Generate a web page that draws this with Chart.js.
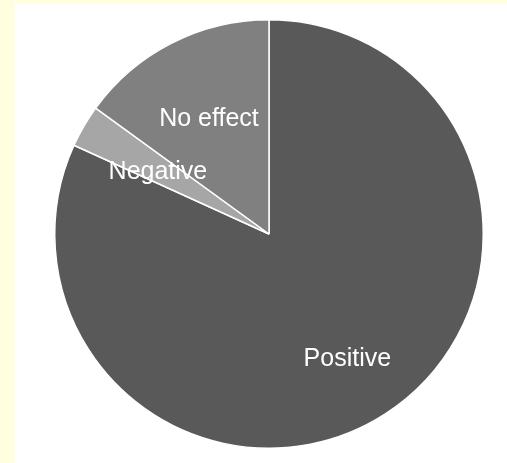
<!DOCTYPE html>
<html>
<head>
<meta charset="utf-8">
<title>Effect</title>
<script src="https://cdn.jsdelivr.net/npm/chart.js@4.4.1/dist/chart.umd.min.js"></script>
<style>
    html, body {
        margin: 0;
        padding: 0;
        background: #ffffe0;
        width: 507px;
        height: 463px;
        overflow: hidden;
    }
    #wrap {
        position: absolute;
        left: 15px;
        top: 4px;
        width: 492px;
        height: 459px;
        background: #ffffff;
    }
</style>
</head>
<body>
<div id="wrap">
    <canvas id="effectChart" width="492" height="459"></canvas>
</div>
<script>
// Share of responses per effect
const categories = ['Positive', 'Negative', 'No effect'];
const shares = [81.8, 3.2, 15.0];
const sliceColors = ['#595959', '#a6a6a6', '#808080'];

// How far out from the centre each label sits (fraction of radius)
const labelRadius = [0.676, 0.6, 0.617];

// Draws the category name inside each slice
const sliceLabels = {
    id: 'sliceLabels',
    afterDatasetsDraw(chart) {
        const ctx = chart.ctx;
        const meta = chart.getDatasetMeta(0);
        ctx.save();
        ctx.font = '25px "Liberation Sans", Arial, sans-serif';
        ctx.fillStyle = '#ffffff';
        ctx.textAlign = 'center';
        ctx.textBaseline = 'middle';
        meta.data.forEach((arc, i) => {
            const p = arc.getProps(['x', 'y', 'startAngle', 'endAngle', 'outerRadius'], true);
            const mid = (p.startAngle + p.endAngle) / 2;
            const r = p.outerRadius * labelRadius[i];
            ctx.fillText(chart.data.labels[i], p.x + Math.cos(mid) * r, p.y + Math.sin(mid) * r + 3);
        });
        ctx.restore();
    }
};

const ctx = document.getElementById('effectChart').getContext('2d');
new Chart(ctx, {
    type: 'pie',
    data: {
        labels: categories,
        datasets: [{
            data: shares,
            backgroundColor: sliceColors,
            borderColor: '#ffffff',
            borderWidth: 1.5
        }]
    },
    options: {
        responsive: false,
        animation: false,
        layout: {
            padding: { left: 39, right: 23, top: 14, bottom: 13 }
        },
        plugins: {
            legend: { display: false },
            tooltip: { enabled: false }
        }
    },
    plugins: [sliceLabels]
});
</script>
</body>
</html>
